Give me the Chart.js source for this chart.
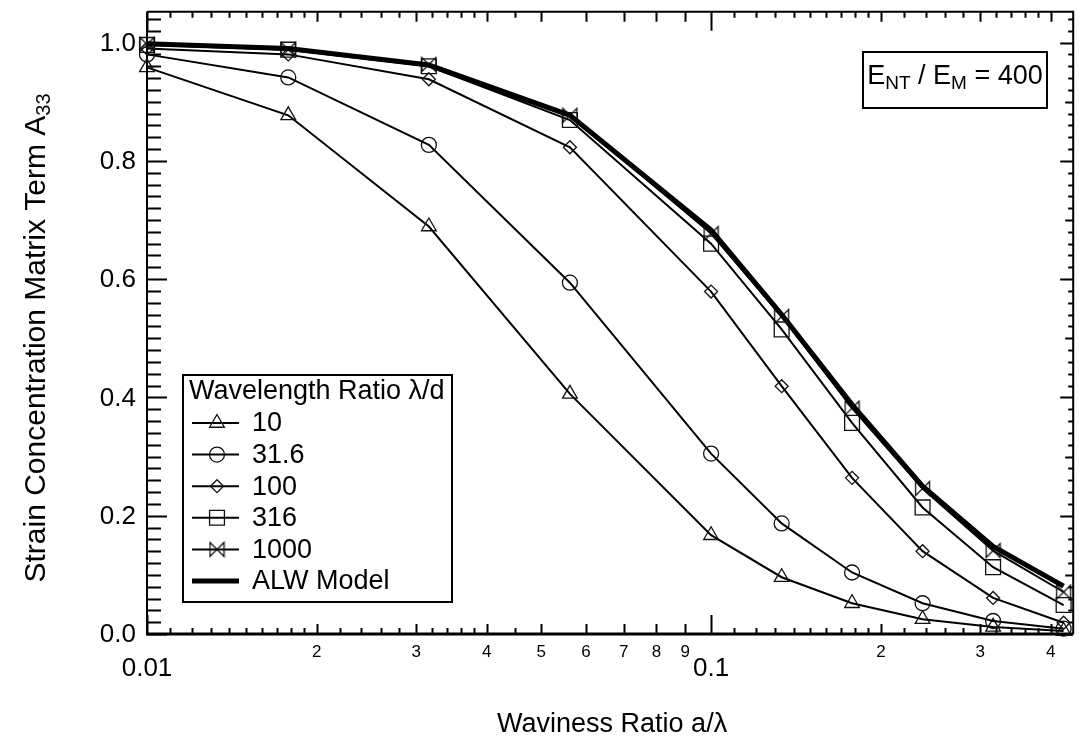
<!DOCTYPE html>
<html><head><meta charset="utf-8">
<script src="https://cdn.jsdelivr.net/npm/chart.js@4.4.0/dist/chart.umd.min.js"></script>
<style>html,body{margin:0;padding:0;background:#fff}canvas{display:block}</style>
</head><body>
<canvas id="c" width="1085" height="741"></canvas>
<script>
// ---------------- data ----------------
const xValues = [0.01, 0.0178, 0.0316, 0.0562, 0.1, 0.1334, 0.1778, 0.2371, 0.3162, 0.4217];
const seriesLabels = ['10', '31.6', '100', '316', '1000', 'ALW Model'];
const ratio10   = [0.958, 0.877, 0.689, 0.406, 0.167, 0.096, 0.052, 0.025, 0.012, 0.005];
const ratio31_6 = [0.980, 0.941, 0.827, 0.594, 0.305, 0.187, 0.104, 0.052, 0.022, 0.009];
const ratio100  = [0.990, 0.980, 0.938, 0.823, 0.579, 0.419, 0.264, 0.140, 0.061, 0.019];
const ratio316  = [0.996, 0.988, 0.960, 0.869, 0.660, 0.515, 0.357, 0.214, 0.113, 0.049];
const ratio1000 = [0.997, 0.988, 0.963, 0.877, 0.677, 0.537, 0.382, 0.246, 0.141, 0.071];
const alwModel  = [0.998, 0.990, 0.962, 0.877, 0.683, 0.540, 0.388, 0.250, 0.148, 0.081];
const yTickValues = [0, 0.2, 0.4, 0.6, 0.8, 1.0];
const yTickLabels = ['0.0', '0.2', '0.4', '0.6', '0.8', '1.0'];
const xMajorValues = [0.01, 0.1];
const xMajorLabels = ['0.01', '0.1'];
const xMinorValues = [0.02, 0.03, 0.04, 0.05, 0.06, 0.07, 0.08, 0.09, 0.2, 0.3, 0.4];
const xMinorLabels = ['2', '3', '4', '5', '6', '7', '8', '9', '2', '3', '4'];
const xAxisTitle = 'Waviness Ratio a/\u03BB';
const yAxisTitle = 'Strain Concentration Matrix Term A';
const yAxisTitleSub = '33';
const legendTitle = 'Wavelength Ratio \u03BB/d';

const FONT = '"Liberation Sans", Arial, Helvetica, sans-serif';

// bowtie marker
function makeBowtie() {
  const c = document.createElement('canvas');
  c.width = 17; c.height = 17;
  const g = c.getContext('2d');
  g.strokeStyle = '#111'; g.lineWidth = 1.3;
  g.beginPath();
  g.moveTo(1.5, 1.5); g.lineTo(15.5, 15.5); g.lineTo(15.5, 1.5); g.lineTo(1.5, 15.5); g.closePath();
  g.stroke();
  return c;
}
const bowtie = makeBowtie();

function mk(label, values, style, radius, width, order) {
  return {
    label,
    data: xValues.map((x, i) => ({ x, y: values[i] })),
    showLine: true,
    borderColor: '#000',
    borderWidth: width,
    pointStyle: style,
    pointRadius: radius,
    pointHoverRadius: radius,
    pointBorderColor: '#111',
    pointBackgroundColor: 'rgba(0,0,0,0)',
    pointBorderWidth: 1.3,
    tension: 0,
    clip: false,
    order
  };
}

const datasets = [
  mk(seriesLabels[0], ratio10, 'triangle', 8.5, 2, 6),
  mk(seriesLabels[1], ratio31_6, 'circle', 7.5, 2, 5),
  mk(seriesLabels[2], ratio100, 'rectRot', 6.5, 2, 4),
  mk(seriesLabels[3], ratio316, 'rect', 10.5, 2, 3),
  mk(seriesLabels[4], ratio1000, bowtie, 8, 2, 2),
  mk(seriesLabels[5], alwModel, 'circle', 0, 5, 1)
];

function richText(ctx, parts, x, y, align) {
  let total = 0;
  const ws = parts.map(p => { ctx.font = p.size + 'px ' + FONT; const w = ctx.measureText(p.t).width; total += w; return w; });
  let cx = align === 'center' ? x - total / 2 : (align === 'right' ? x - total : x);
  ctx.textAlign = 'left';
  parts.forEach((p, i) => {
    ctx.font = p.size + 'px ' + FONT;
    ctx.fillText(p.t, cx, y + (p.dy || 0));
    cx += ws[i];
  });
}

function logSubTicks(lo, hi) {
  const major = [], mid = [], minor = [];
  for (let d = -3; d <= 1; d++) {
    const base = Math.pow(10, d);
    major.push(base);
    for (let k = 2; k <= 9; k++) mid.push(k * base);
    for (let f = 1.1; f < 1.95; f += 0.1) minor.push(f * base);
    for (let f = 2.2; f < 3.95; f += 0.2) if (Math.abs(f - 3) > 0.05) minor.push(f * base);
    minor.push(4.5 * base);
  }
  const inR = v => v >= lo * 0.9999 && v <= hi * 1.0001;
  return { major: major.filter(inR), mid: mid.filter(inR), minor: minor.filter(inR) };
}

const axesPlugin = {
  id: 'axesFrame',
  beforeDatasetsDraw(chart) {
    const { ctx, chartArea: a, scales: { x, y } } = chart;
    ctx.save();
    ctx.strokeStyle = '#000';
    ctx.lineWidth = 2;
    ctx.beginPath();
    ctx.moveTo(a.left, a.top); ctx.lineTo(a.right, a.top); ctx.lineTo(a.right, a.bottom);
    ctx.moveTo(a.left, a.top); ctx.lineTo(a.left, a.bottom);
    ctx.stroke();
    ctx.lineWidth = 3;
    ctx.beginPath(); ctx.moveTo(a.left - 1, a.bottom); ctx.lineTo(a.right, a.bottom); ctx.stroke();
    const t = logSubTicks(x.min, x.max);
    ctx.lineWidth = 2;
    const xt = (vals, len) => {
      vals.forEach(v => {
        const px = Math.round(x.getPixelForValue(v)) + 0.5;
        ctx.beginPath();
        ctx.moveTo(px, a.bottom); ctx.lineTo(px, a.bottom - len);
        ctx.moveTo(px, a.top); ctx.lineTo(px, a.top + len);
        ctx.stroke();
      });
    };
    xt(t.major, 19); xt(t.mid, 10); xt(t.minor, 6);
    for (let i = 0; i <= 105; i += 2) {
      const v = i / 100;
      if (v > y.max) break;
      const py = Math.round(y.getPixelForValue(v)) + 0.5;
      const isMajor = i % 20 === 0;
      const isMid = i % 10 === 0;
      ctx.beginPath();
      ctx.moveTo(a.left, py); ctx.lineTo(a.left + (isMajor ? 20 : 14), py);
      ctx.moveTo(a.right, py); ctx.lineTo(a.right - (isMajor ? 13 : (isMid ? 8 : 5)), py);
      ctx.stroke();
    }
    ctx.restore();
  },
  afterDraw(chart) {
    const { ctx, chartArea: a, scales: { x, y } } = chart;
    ctx.save();
    ctx.fillStyle = '#000';
    ctx.textBaseline = 'middle';
    ctx.font = '26px ' + FONT;
    ctx.textAlign = 'right';
    yTickValues.forEach((v, i) => ctx.fillText(yTickLabels[i], a.left - 11, y.getPixelForValue(v) + 1));
    ctx.textAlign = 'center';
    ctx.font = '17px ' + FONT;
    xMinorValues.forEach((v, i) => ctx.fillText(xMinorLabels[i], x.getPixelForValue(v), a.bottom + 18));
    ctx.font = '26px ' + FONT;
    xMajorValues.forEach((v, i) => ctx.fillText(xMajorLabels[i], x.getPixelForValue(v), a.bottom + 35));
    ctx.font = '27px ' + FONT;
    ctx.fillText(xAxisTitle, (a.left + a.right) / 2 + 2, 725);
    ctx.save();
    ctx.translate(37, 338);
    ctx.rotate(-Math.PI / 2);
    richText(ctx, [{ t: yAxisTitle, size: 30 }, { t: yAxisTitleSub, size: 20, dy: 7 }], 0, 0, 'center');
    ctx.restore();

    // E ratio box
    ctx.lineWidth = 2;
    ctx.fillStyle = '#fff';
    ctx.fillRect(863, 52, 184, 56);
    ctx.strokeStyle = '#000';
    ctx.strokeRect(863, 52, 184, 56);
    ctx.fillStyle = '#000';
    richText(ctx, [
      { t: 'E', size: 27 }, { t: 'NT', size: 19, dy: 7 }, { t: ' / E', size: 27 },
      { t: 'M', size: 19, dy: 7 }, { t: ' = 400', size: 27 }
    ], 955, 77, 'center');

    // legend
    ctx.fillStyle = '#fff';
    ctx.fillRect(183, 375, 269, 227);
    ctx.strokeRect(183, 375, 269, 227);
    ctx.fillStyle = '#000';
    ctx.textAlign = 'left';
    ctx.font = '27px ' + FONT;
    ctx.fillText(legendTitle, 189, 392);
    chart.data.datasets.forEach((ds, i) => {
      const cy = 423 + i * 31.6;
      ctx.strokeStyle = '#000';
      ctx.lineWidth = ds.borderWidth;
      ctx.beginPath(); ctx.moveTo(192, cy); ctx.lineTo(239, cy); ctx.stroke();
      if (ds.pointRadius > 0) {
        if (ds.pointStyle instanceof HTMLCanvasElement) {
          ctx.drawImage(ds.pointStyle, 217 - ds.pointStyle.width / 2, cy - ds.pointStyle.height / 2);
        } else if (Chart.helpers && Chart.helpers.drawPoint) {
          ctx.strokeStyle = ds.pointBorderColor;
          ctx.fillStyle = 'rgba(0,0,0,0)';
          ctx.lineWidth = ds.pointBorderWidth;
          Chart.helpers.drawPoint(ctx, { pointStyle: ds.pointStyle, radius: ds.pointRadius, borderWidth: ds.pointBorderWidth, rotation: 0 }, 217, cy);
        }
      }
      ctx.fillStyle = '#000';
      ctx.font = '27px ' + FONT;
      ctx.fillText(ds.label, 252, cy + 1);
    });
    ctx.restore();
  }
};

new Chart(document.getElementById('c'), {
  type: 'scatter',
  data: { datasets },
  options: {
    responsive: false,
    animation: false,
    devicePixelRatio: 1,
    layout: { padding: { left: 147, right: 1, top: 9, bottom: 107 } },
    plugins: { legend: { display: false }, tooltip: { enabled: false } },
    scales: {
      x: { type: 'logarithmic', min: 0.01, max: 0.4385, display: false },
      y: { type: 'linear', min: 0, max: 1.052, display: false }
    }
  },
  plugins: [axesPlugin]
});
</script>
</body></html>
